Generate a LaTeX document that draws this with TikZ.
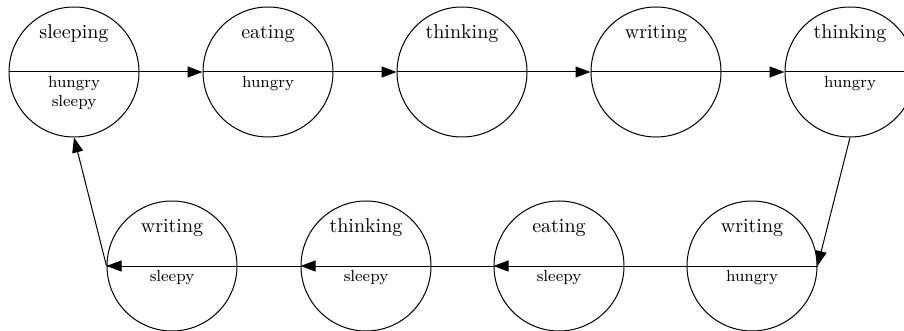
\documentclass[tikz,border=0pt]{standalone}
\usetikzlibrary{arrows.meta}

\begin{document}
\begin{tikzpicture}[x=0.5pt,y=-0.5pt,line width=0.5pt,>={Triangle[length=7.5pt,width=5.5pt]},
  state/.style={draw,circle,minimum size=65pt,inner sep=0pt}]
  \clip (0,0) rectangle (904,331);
  % states: top row left to right, bottom row right to left
  \foreach \n/\x/\y/\a/\b in {s1/74/72/sleeping/{hungry\\sleepy}, s2/268/72/eating/hungry,
      s3/462/72/thinking/{}, s4/656/72/writing/{}, s5/850/72/thinking/hungry,
      s6/752/266/writing/hungry, s7/559/266/eating/sleepy, s8/366/266/thinking/sleepy,
      s9/172/266/writing/sleepy}{
    \node[state] (\n) at (\x,\y) {};
    \draw (\n.west) -- (\n.east);
    \node[anchor=base] at (\x,\y-33) {\a};
    \node[anchor=north,inner sep=2pt,align=center,font=\footnotesize] at (\n.center) {\b};}
  % transitions
  \foreach \u/\v in {s1/s2, s2/s3, s3/s4, s4/s5, s6/s7, s7/s8, s8/s9}
    \draw[->] (\u.east) -- (\v.west);
  \draw[->] (s5.south) -- (s6.east);
  \draw[->] (s9.west) -- (s1.south);
\end{tikzpicture}
\end{document}
